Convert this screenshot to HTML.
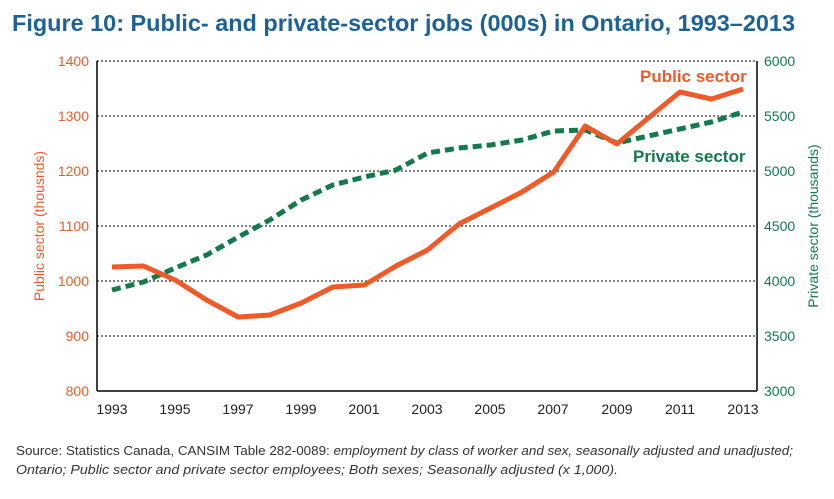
<!DOCTYPE html><html><head><style>body{margin:0;background:#fff;width:834px;height:494px;overflow:hidden}</style></head><body>
<svg width="834" height="494" xmlns="http://www.w3.org/2000/svg" font-family="Liberation Sans, sans-serif">
<text x="12" y="31" font-size="23" font-weight="bold" fill="#1d6296" textLength="783" lengthAdjust="spacingAndGlyphs">Figure 10: Public- and private-sector jobs (000s) in Ontario, 1993–2013</text>
<g stroke="#000" stroke-width="1" stroke-dasharray="2,2">
<line x1="97" y1="61" x2="757" y2="61"/><line x1="97" y1="116" x2="757" y2="116"/><line x1="97" y1="171" x2="757" y2="171"/><line x1="97" y1="226" x2="757" y2="226"/><line x1="97" y1="281" x2="757" y2="281"/><line x1="97" y1="336" x2="757" y2="336"/></g>
<line x1="97" y1="61" x2="97" y2="391" stroke="#000" stroke-width="1.5"/>
<line x1="757" y1="61" x2="757" y2="391" stroke="#000" stroke-width="1.5"/>
<line x1="97" y1="391" x2="757" y2="391" stroke="#000" stroke-width="1.5"/>
<g font-size="14" fill="#f05a28" text-anchor="end">
<text x="89" y="66">1400</text><text x="89" y="121">1300</text><text x="89" y="176">1200</text><text x="89" y="231">1100</text><text x="89" y="286">1000</text><text x="89" y="341">900</text><text x="89" y="396">800</text></g>
<g font-size="14" fill="#137a4c">
<text x="764" y="66">6000</text><text x="764" y="121">5500</text><text x="764" y="176">5000</text><text x="764" y="231">4500</text><text x="764" y="286">4000</text><text x="764" y="341">3500</text><text x="764" y="396">3000</text></g>
<g font-size="14" fill="#222" text-anchor="middle">
<text x="112" y="414">1993</text><text x="175" y="414">1995</text><text x="238" y="414">1997</text><text x="301" y="414">1999</text><text x="364" y="414">2001</text><text x="427" y="414">2003</text><text x="490" y="414">2005</text><text x="553" y="414">2007</text><text x="617" y="414">2009</text><text x="680" y="414">2011</text><text x="743" y="414">2013</text></g>
<text transform="translate(44,226) rotate(-90)" font-size="14" fill="#f05a28" text-anchor="middle">Public sector (thousnds)</text>
<text transform="translate(818,226) rotate(-90)" font-size="14" fill="#137a4c" text-anchor="middle">Private sector (thousands)</text>
<polyline fill="none" stroke="#137a4c" stroke-width="5" stroke-dasharray="9,5" points="112,290 143.5,282 175.1,268 206.6,255 238.2,237 269.7,220 301.3,200 332.8,185 364.4,177 396,170 427.5,153 459,148 490.6,145 522,140 553.7,131 585.2,130 616.8,143 648.3,136 679.9,129 711.4,122 743,112"/>
<polyline fill="none" stroke="#f05a28" stroke-width="5" stroke-linejoin="round" points="112,267 143.5,266 175.1,280 206.6,300 238.2,317 269.7,315 301.3,303 332.8,287 364.4,285 396,266 427.5,250 459,224 490.6,208 522,192 553.7,172 585.2,126 616.8,144 648.3,118 679.9,92 711.4,99 743,89"/>
<text x="640" y="82" font-size="17" font-weight="bold" fill="#f05a28">Public sector</text>
<text x="633" y="162" font-size="17" font-weight="bold" fill="#137a4c">Private sector</text>
<g font-size="13" fill="#333"><text x="16" y="455" textLength="777" lengthAdjust="spacingAndGlyphs">Source: Statistics Canada, CANSIM Table 282-0089: <tspan font-style="italic">employment by class of worker and sex, seasonally adjusted and unadjusted;</tspan></text>
<text x="16" y="474" font-style="italic" textLength="602" lengthAdjust="spacingAndGlyphs">Ontario; Public sector and private sector employees; Both sexes; Seasonally adjusted (x 1,000).</text></g>
</svg></body></html>
